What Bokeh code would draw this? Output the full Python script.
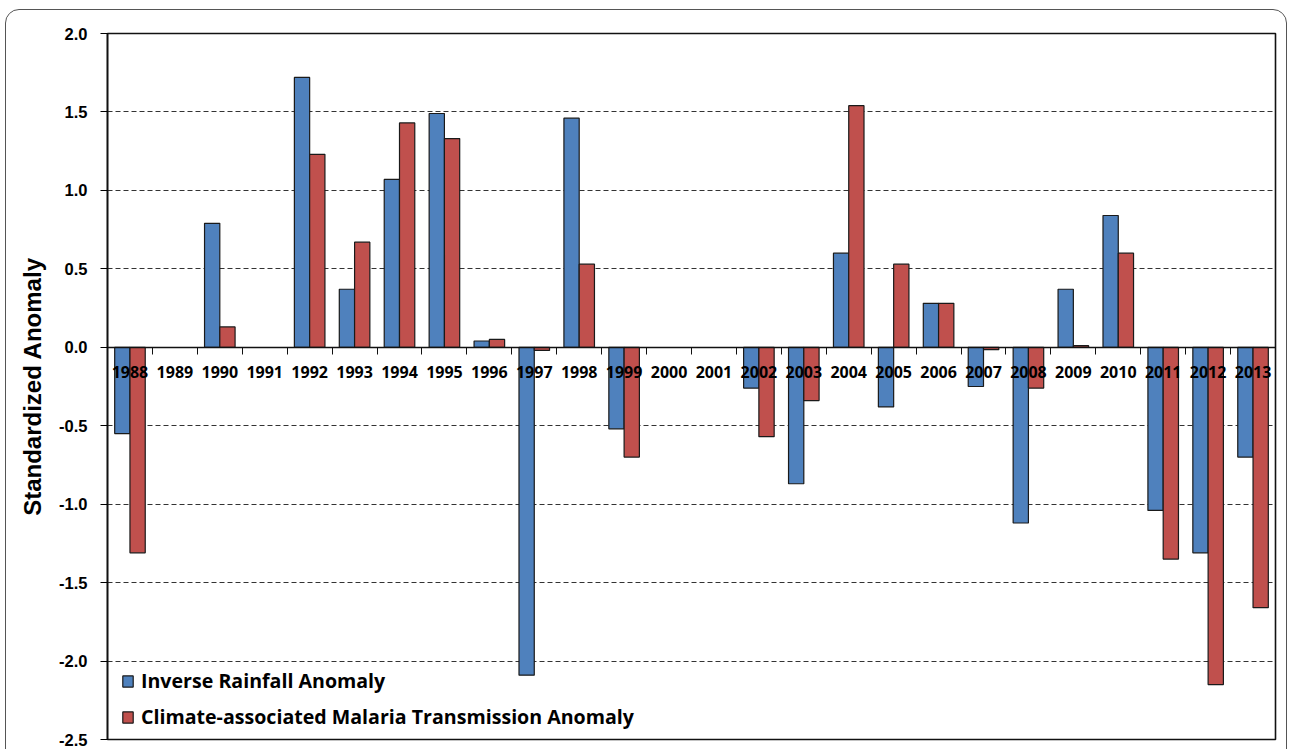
import numpy as np
from bokeh.plotting import figure
from bokeh.models import (ColumnDataSource, Range1d, LinearAxis, FixedTicker,
                          NumeralTickFormatter, Legend, LegendItem)
from bokeh.transform import dodge
from bokeh.embed import file_html
from bokeh.resources import INLINE

years = ["1988", "1989", "1990", "1991", "1992", "1993", "1994", "1995", "1996", "1997",
         "1998", "1999", "2000", "2001", "2002", "2003", "2004", "2005", "2006", "2007",
         "2008", "2009", "2010", "2011", "2012", "2013"]
rainfall = [-0.55, None, 0.79, None, 1.72, 0.37, 1.07, 1.49, 0.04, -2.09,
            1.46, -0.52, None, None, -0.26, -0.87, 0.60, -0.38, 0.28, -0.25,
            -1.12, 0.37, 0.84, -1.04, -1.31, -0.70]
malaria = [-1.31, None, 0.13, None, 1.23, 0.67, 1.43, 1.33, 0.05, -0.02,
           0.53, -0.70, None, None, -0.57, -0.34, 1.54, 0.53, 0.28, -0.015,
           -0.26, 0.01, 0.60, -1.35, -2.15, -1.66]
y_ticks = [-2.5, -2.0, -1.5, -1.0, -0.5, 0.0, 0.5, 1.0, 1.5, 2.0]

BLUE = "#4F81BD"
RED = "#C0504D"
EDGE = "#1a1a1a"

n = len(years)
centers = [i + 0.5 for i in range(n)]
edges = list(range(n + 1))

src = ColumnDataSource(dict(x=centers, years=years,
                            rain=np.array(rainfall, dtype=float),
                            mal=np.array(malaria, dtype=float)))

p = figure(x_range=Range1d(0, n), y_range=Range1d(-2.5, 2.0),
           width=1290, height=749, output_backend="svg", toolbar_location=None,
           min_border_left=107, min_border_right=15, min_border_top=33, min_border_bottom=10)
p.xaxis.visible = False
p.background_fill_color = "white"
p.border_fill_color = "white"
p.outline_line_color = "#111111"
p.outline_line_width = 1.6

r1 = p.vbar(x=dodge("x", -0.17), top="rain", width=0.34, source=src,
            fill_color=BLUE, line_color=EDGE, line_width=1.2)
r2 = p.vbar(x=dodge("x", 0.17), top="mal", width=0.34, source=src,
            fill_color=RED, line_color=EDGE, line_width=1.2)

# y axis
p.yaxis.ticker = FixedTicker(ticks=y_ticks)
p.yaxis.formatter = NumeralTickFormatter(format="0.0")
p.yaxis.major_label_text_font = "Liberation Sans"
p.yaxis.major_label_text_font_style = "bold"
p.yaxis.major_label_text_font_size = "16.5px"
p.yaxis.major_label_text_color = "black"
p.yaxis.major_tick_out = 7
p.yaxis.major_tick_in = 0
p.yaxis.minor_tick_line_color = None
p.yaxis.major_label_standoff = 13
p.yaxis.axis_line_color = "#111111"
p.yaxis.axis_line_width = 1.6
p.yaxis.axis_label = "Standardized Anomaly"
p.yaxis.axis_label_text_font = "Liberation Sans"
p.yaxis.axis_label_text_font_style = "bold"
p.yaxis.axis_label_text_font_size = "24px"
p.yaxis.axis_label_text_color = "black"
p.yaxis.axis_label_standoff = 10

p.ygrid.ticker = FixedTicker(ticks=y_ticks)
p.ygrid.grid_line_color = "#333333"
p.ygrid.grid_line_dash = "5 3"
p.ygrid.grid_line_width = 1
p.xgrid.grid_line_color = None

# year labels at y = 0
label_axis = LinearAxis(ticker=FixedTicker(ticks=centers), fixed_location=0,
                        major_label_overrides={c: y for c, y in zip(centers, years)})
label_axis.axis_line_color = None
label_axis.major_tick_line_color = None
label_axis.minor_tick_line_color = None
label_axis.major_label_standoff = 13
label_axis.major_label_text_font = "Open Sans"
label_axis.major_label_text_font_style = "bold"
label_axis.major_label_text_font_size = "16px"
label_axis.major_label_text_color = "black"
p.add_layout(label_axis, "below")

# zero axis line with tick marks at category boundaries
edge_axis = LinearAxis(ticker=FixedTicker(ticks=edges), fixed_location=0)
edge_axis.axis_line_color = "#111111"
edge_axis.axis_line_width = 1.3
edge_axis.major_tick_out = 7
edge_axis.major_tick_in = 0
edge_axis.major_tick_line_color = "#111111"
edge_axis.minor_tick_line_color = None
edge_axis.major_label_text_color = None
edge_axis.major_label_text_font_size = "1px"
p.add_layout(edge_axis, "below")

legend = Legend(items=[LegendItem(label="Inverse Rainfall Anomaly", renderers=[r1]),
                       LegendItem(label="Climate-associated Malaria Transmission Anomaly", renderers=[r2])],
                location=(14, 9))
legend.background_fill_alpha = 0
legend.border_line_color = None
legend.margin = 0
legend.padding = 0
legend.glyph_width = 13
legend.glyph_height = 14
legend.label_standoff = 7
legend.label_height = 20
legend.spacing = 9
legend.label_text_font = "Open Sans"
legend.label_text_font_style = "bold"
legend.label_text_font_size = "19.6px"
legend.label_text_color = "black"
p.add_layout(legend, "center")

html = file_html(p, INLINE)
frame_div = ('<div style="position:fixed;left:5px;top:9px;width:1280px;height:800px;z-index:10;'
             'border:1.5px solid #555;border-radius:14px;pointer-events:none;"></div>')
html = html.replace("</body>", frame_div + "</body>", 1)
open("out.html", "w").write(html)
